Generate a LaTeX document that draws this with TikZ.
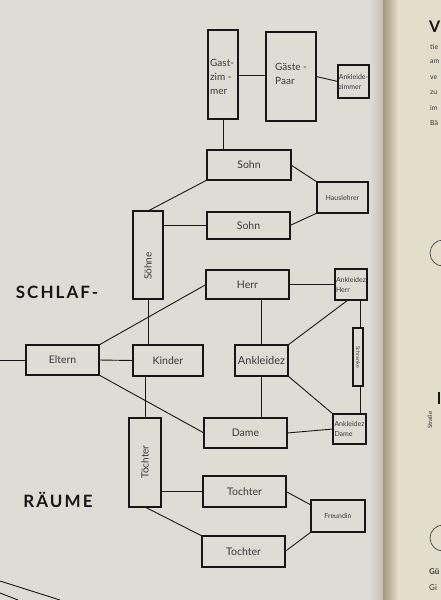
\documentclass[tikz,border=0pt]{standalone}
\usepackage{fontspec}
\setmainfont{Lato}
\newfontfamily\headfont[LetterSpace=12]{Lato Bold}
\usetikzlibrary{calc}
\definecolor{paper}{RGB}{221,220,213}
\definecolor{rpaper}{RGB}{229,221,204}
\definecolor{gutter}{RGB}{165,150,124}
\definecolor{ink}{RGB}{22,22,22}
\begin{document}
\begin{tikzpicture}[x=1pt,y=-1pt,
  box/.style={draw=ink, line width=2.4pt, fill=paper, inner sep=1pt, outer sep=0pt,
    font=\fontsize{10.5}{13}\selectfont, text=ink!85},
  sbox/.style={box, line width=2pt, inner sep=0.5pt, font=\fontsize{7}{10}\selectfont},
  conn/.style={draw=ink, line width=0.9pt},
  lbl/.style={inner sep=0pt, font=\fontsize{10}{14}\selectfont, text=ink!85},
  slbl/.style={inner sep=0pt, font=\fontsize{5.5}{6}\selectfont, text=ink!80},
  head/.style={inner sep=0pt, font=\headfont\fontsize{17}{19}\selectfont, text=ink},
  rtext/.style={inner sep=0pt, anchor=west, font=\fontsize{7}{8}\selectfont, text=ink!85}
]
\useasboundingbox (0,0) rectangle (441,600);
% pages
\fill[paper] (0,0) rectangle (441,600);
\fill[rpaper] (383,0) rectangle (441,600);
\foreach \i in {0,...,15}{
  \pgfmathsetmacro{\pc}{100-\i*6.5}
  \fill[gutter!\pc!rpaper] (383+\i,0) rectangle (384.1+\i,600);
}
\foreach \i in {0,...,12}{
  \pgfmathsetmacro{\pc}{\i*3}
  \fill[gutter!\pc!paper] (370+\i,0) rectangle (371.1+\i,600);
}

% boxes
\node[box, minimum width=30pt, minimum height=89pt] (gz) at (223,74.5) {};
\node[lbl, align=left, anchor=west] (gzt) at (210,77) {Gast-\\zim -\\mer};
\node[box, minimum width=50pt, minimum height=89pt] (gp) at (291,76.5) {};
\node[lbl, align=left, anchor=west] (gpt) at (275,74) {Gäste -\\Paar};
\node[sbox, minimum width=31pt, minimum height=33pt, align=left] (az) at (353.5,81.5) {Ankleide-\\zimmer};

\node[box, minimum width=84pt, minimum height=30pt] (sohn1) at (249,165) {Sohn};
\node[sbox, minimum width=51pt, minimum height=31pt] (hl) at (342.5,197.5) {Hauslehrer};
\node[box, minimum width=83pt, minimum height=27pt] (sohn2) at (248.5,225.5) {Sohn};
\node[box, minimum width=30pt, minimum height=88pt] (soehne) at (148,255) {};
\node[lbl, rotate=90] (soehnet) at (148,266) {Söhne};

\node[box, minimum width=83pt, minimum height=29pt] (herr) at (247.5,284.5) {Herr};
\node[sbox, minimum width=32pt, minimum height=31pt, align=left] (akh) at (351,284.5) {Ankleidez\\Herr};
\node[sbox, line width=1.6pt, minimum width=10pt, minimum height=58pt] (schr) at (358,357) {};
\node[slbl, rotate=-90] (schrt) at (358,357) {Schranke};

\node[box, minimum width=73pt, minimum height=30pt] (eltern) at (62.5,360) {Eltern};
\node[box, minimum width=70pt, minimum height=31pt] (kinder) at (168,360.5) {Kinder};
\node[box, minimum width=53pt, minimum height=31pt, inner sep=0pt, font=\fontsize{11}{13}\selectfont] (akz) at (261.5,360.5) {Ankleidez};

\node[box, minimum width=83pt, minimum height=30pt] (dame) at (245.5,433) {Dame};
\node[sbox, minimum width=33pt, minimum height=30pt, align=left] (akd) at (349.5,429) {Ankleidez\\Dame};
\node[box, minimum width=32pt, minimum height=89pt] (toechter) at (145,462.5) {};
\node[lbl, rotate=90] (toechtert) at (145,462) {Töchter};
\node[box, minimum width=83pt, minimum height=31pt] (t1) at (244.5,491.5) {Tochter};
\node[sbox, minimum width=54pt, minimum height=32pt] (fr) at (338,516) {Freundin};
\node[box, minimum width=83pt, minimum height=31pt] (t2) at (243.5,551.5) {Tochter};

% headings
\node[head] (h1) at (57,292) {SCHLAF-};
\node[head] (h2) at (58,500) {RÄUME};

% connectors
\coordinate (lft) at (0,360);
\draw[conn] (gz.east |- 0,75) -- (gp.west |- 0,75);
\draw[conn] (gp.east) -- (az.west);
\draw[conn] (gz.south) -- (gz.south |- sohn1.north);
\draw[conn] (sohn1.south west) -- (soehne.north);
\draw[conn] (soehne.east |- sohn2.west) -- (sohn2.west);
\draw[conn] (sohn1.east) -- (hl.north west);
\draw[conn] (sohn2.east) -- (hl.south west);
\draw[conn] (soehne.south) -- (soehne.south |- kinder.north);
\draw[conn] (lft) -- (eltern.west);
\draw[conn] (eltern.east) -- (kinder.west);
\draw[conn] (eltern.north east) -- (herr.west);
\draw[conn] (akz.north |- herr.south) -- (akz.north);
\draw[conn] (herr.east) -- (akh.west);
\draw[conn] (akz.north east) -- ($(akh.south)+(-3,0)$);
\draw[conn] (schr.north -| 360,0) -- (akh.south -| 360,0);
\draw[conn] (schr.south -| 360,0) -- (akd.north -| 360,0);
\draw[conn] (akz.south east) -- (akd.north west);
\draw[conn] (akz.south) -- (akz.south |- dame.north);
\draw[conn] (eltern.south east) -- (dame.west);
\draw[conn] (toechter.north |- kinder.south) -- (toechter.north);
\draw[conn] (dame.east) -- (akd.west);
\draw[conn] (toechter.east |- t1.west) -- (t1.west);
\draw[conn] (t1.east) -- ($(fr.west)+(0,-11)$);
\draw[conn] (toechter.south) -- (t2.north west);
\draw[conn] (t2.east) -- (fr.south west);

% fragments at the bottom left
\draw[conn] (0,581) -- (60,600);
\draw[conn] (0,593) -- (18,600);

% fragments of the facing page
\node[inner sep=0pt, font=\bfseries\fontsize{16}{18}\selectfont, text=ink, anchor=west] (bigv) at (429,27) {V};
\node[rtext] (r1) at (430,47) {tie};
\node[rtext] (r2) at (430,62) {am};
\node[rtext] (r3) at (430,78) {ve};
\node[rtext] (r4) at (430,93) {zu};
\node[rtext] (r5) at (430,108) {im};
\node[rtext] (r6) at (430,123) {Bä};
\draw[ink!80, line width=0.7pt] (443,253) circle (13);
\draw[ink!80, line width=0.7pt] (443,538) circle (13);
\node[rtext, rotate=90, anchor=center, font=\fontsize{6}{7}\selectfont] (strasse) at (430,420) {Straße};
\fill[ink] (438,392) rectangle (440,404);
\node[rtext, font=\bfseries\fontsize{8}{9}\selectfont] (g1) at (429,572) {Gü};
\node[rtext, font=\fontsize{8}{9}\selectfont] (g2) at (429,588) {Gi};
\end{tikzpicture}
\end{document}
